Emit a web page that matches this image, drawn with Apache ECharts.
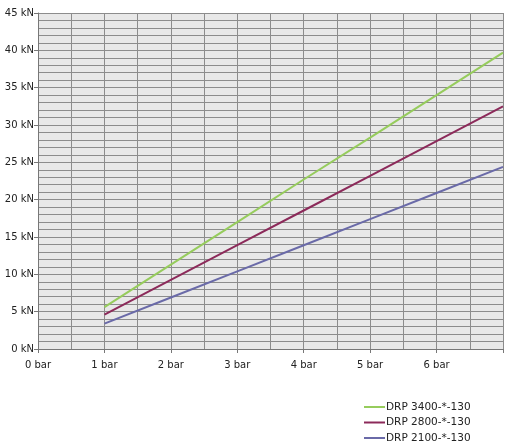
<!DOCTYPE html>
<html>
<head>
<meta charset="utf-8">
<script src="https://cdn.jsdelivr.net/npm/echarts@6/dist/echarts.min.js"></script>
<style>
html,body{margin:0;padding:0;background:#fff;}
#c{width:512px;height:448px;}
</style>
</head>
<body>
<div id="c"></div>
<script>
var pressures = [1, 2, 3, 4, 5, 6, 7];
var drp3400 = [5.6, 11.3, 17.0, 22.7, 28.3, 34.0, 39.7];
var drp2800 = [4.6, 9.25, 13.9, 18.55, 23.2, 27.85, 32.5];
var drp2100 = [3.4, 6.9, 10.4, 13.9, 17.4, 20.9, 24.4];
var seriesNames = ['DRP 3400-*-130', 'DRP 2800-*-130', 'DRP 2100-*-130'];
var colors = ['#96cc5c', '#8c2a5a', '#6a6aa8'];

function pairs(vals){ return pressures.map(function(p,i){ return [p, vals[i]]; }); }
var allVals = [drp3400, drp2800, drp2100];

var chart = echarts.init(document.getElementById('c'));
var font = 'DejaVu Sans';
chart.setOption({
  animation: false,
  backgroundColor: '#ffffff',
  grid: {left: 38, right: 9, top: 13, bottom: 99, show: true, backgroundColor: '#e8e8e8', borderWidth: 0},
  xAxis: {
    type: 'value', min: 0, max: 7, interval: 1,
    axisLine: {show: true, lineStyle: {color: '#777', width: 1}},
    axisTick: {show: true, length: 4, lineStyle: {color: '#777'}},
    axisLabel: {color: '#222', fontFamily: font, fontSize: 10, margin: 11,
      formatter: function(v){ return v >= 7 ? '' : v + ' bar'; }},
    splitLine: {show: true, lineStyle: {color: '#8c8c8c', width: 1}},
    minorTick: {show: false, splitNumber: 2},
    minorSplitLine: {show: true, lineStyle: {color: '#8c8c8c', width: 1}}
  },
  yAxis: {
    type: 'value', min: 0, max: 45, interval: 5,
    axisLine: {show: true, lineStyle: {color: '#777', width: 1}},
    axisTick: {show: true, length: 4, lineStyle: {color: '#777'}},
    axisLabel: {color: '#222', fontFamily: font, fontSize: 10, margin: 4,
      formatter: function(v){ return v + ' kN'; }},
    splitLine: {show: true, lineStyle: {color: '#8c8c8c', width: 1}},
    minorTick: {show: false, splitNumber: 5},
    minorSplitLine: {show: true, lineStyle: {color: '#8c8c8c', width: 1}}
  },
  legend: {
    orient: 'vertical', left: 364, top: 401, itemGap: 3.5, height: 60, padding: 0,
    icon: 'rect', itemWidth: 21, itemHeight: 2,
    textStyle: {color: '#222', fontFamily: font, fontSize: 10.5, lineHeight: 12, padding: [0,0,0,-4]},
    data: seriesNames
  },
  series: seriesNames.map(function(n, i){
    return {
      name: n, type: 'line', data: pairs(allVals[i]),
      symbol: 'none', color: colors[i],
      lineStyle: {color: colors[i], width: 2}
    };
  })
});
</script>
</body>
</html>
